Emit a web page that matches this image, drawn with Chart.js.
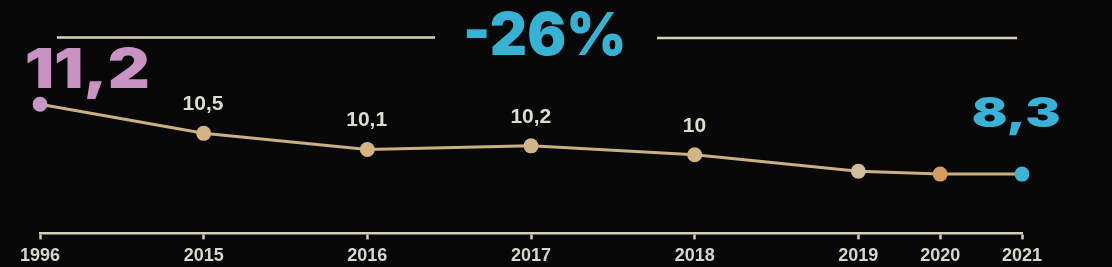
<!DOCTYPE html>
<html>
<head>
<meta charset="utf-8">
<script src="https://cdn.jsdelivr.net/npm/chart.js@4.4.1/dist/chart.umd.min.js"></script>
<style>
  html, body { margin: 0; padding: 0; background: #080808; }
  #wrap { width: 1112px; height: 267px; }
</style>
</head>
<body>
<div id="wrap"><canvas id="c" width="1112" height="267"></canvas></div>
<script>
// ---- data ----
const years = ['1996', '2015', '2016', '2017', '2018', '2019', '2020', '2021'];
// vertical level of each marker as drawn in the reference
const values = [11.2, 10.48, 10.08, 10.17, 9.95, 9.54, 9.47, 9.47];
// printed value labels
const valueLabels = ['11,2', '10,5', '10,1', '10,2', '10', '', '', '8,3'];
const headline = '-26%';

// ---- styling ----
const pointColors = ['#c997c6', '#d3b484', '#d3b484', '#d3b484', '#d3b484', '#cfbea0', '#d49d5e', '#3fb3d6'];
const BIG = "Inter, 'Liberation Sans', sans-serif";
const FONT = "'Liberation Sans', Arial, sans-serif";
const bigFirst = { size: 55, weight: 900, color: '#c993c4', dx: 47.5, dy: -16, w: 121, family: BIG };
const small = { size: 21, weight: 'bold', color: '#dcdccf', dx: 0, dy: -23, w: 0, family: FONT };
const bigLast = { size: 41, weight: 900, color: '#38b3d5', dx: -5.5, dy: -47, w: 87, family: BIG };
const labelStyles = [bigFirst, small, small, small, small, small, small, bigLast];

// build category axis: wider gaps between the earlier years
const categories = [];
const slotData = [];
const slotColors = [];
const slotOfYear = [];
years.forEach((y, i) => {
  slotOfYear.push(categories.length);
  categories.push(y);
  slotData.push(values[i]);
  slotColors.push(pointColors[i]);
  if (i < 5) { categories.push(''); slotData.push(null); slotColors.push('rgba(0,0,0,0)'); }
});

const bgPlugin = {
  id: 'bg',
  beforeDraw(chart) {
    const c = chart.ctx;
    c.save();
    c.fillStyle = '#080808';
    c.fillRect(0, 0, chart.width, chart.height);
    c.restore();
  }
};

// draw text whose glyph box is centred on cx; optionally stretched to a target glyph width
function drawText(c, text, cx, y, s) {
  c.save();
  c.font = s.weight + ' ' + s.size + 'px ' + s.family;
  c.textAlign = 'left';
  c.textBaseline = 'alphabetic';
  const m = c.measureText(text);
  const gl = -m.actualBoundingBoxLeft, gr = m.actualBoundingBoxRight;
  const gw = gr - gl;
  const sx = s.w ? s.w / gw : 1;
  c.translate(cx, y);
  c.scale(sx, 1);
  c.fillStyle = s.color;
  c.fillText(text, -(gl + gw / 2), 0);
  c.restore();
}

const labelPlugin = {
  id: 'labels',
  afterDatasetsDraw(chart) {
    const c = chart.ctx;
    const meta = chart.getDatasetMeta(0);
    years.forEach((y, i) => {
      const t = valueLabels[i];
      if (!t) return;
      const el = meta.data[slotOfYear[i]];
      const s = labelStyles[i];
      drawText(c, t, el.x + s.dx, el.y + s.dy, s);
    });
    // headline with flanking rules
    c.save();
    c.strokeStyle = '#d6d2b6';
    c.lineWidth = 2.5;
    c.beginPath();
    c.moveTo(57, 37.5); c.lineTo(435, 37.5);
    c.moveTo(657, 38); c.lineTo(1017, 38);
    c.stroke();
    c.restore();
    drawText(c, headline, 544.5, 55, { size: 59, weight: 900, color: '#36b2d4', w: 157, family: BIG });
  }
};

new Chart(document.getElementById('c'), {
  type: 'line',
  data: {
    labels: categories,
    datasets: [{
      data: slotData,
      spanGaps: true,
      borderColor: '#cbb083',
      borderWidth: 3,
      pointRadius: 7.5,
      pointBorderWidth: 0,
      pointBackgroundColor: slotColors,
      pointHoverRadius: 7.5,
      tension: 0
    }]
  },
  options: {
    responsive: false,
    animation: false,
    events: [],
    layout: { padding: { left: 40, right: 90, top: 72, bottom: -6 } },
    plugins: { legend: { display: false }, tooltip: { enabled: false }, title: { display: false } },
    scales: {
      x: {
        offset: false,
        border: { display: true, color: '#d0cfba', width: 2.5 },
        grid: {
          display: true,
          drawOnChartArea: false,
          drawTicks: true,
          tickLength: 6,
          tickWidth: 2.5,
          tickColor: (ctx) => categories[ctx.index] ? '#d0cfba' : 'rgba(0,0,0,0)'
        },
        ticks: {
          autoSkip: false,
          maxRotation: 0,
          minRotation: 0,
          padding: 6,
          color: '#d6d6cc',
          font: { family: FONT, size: 18, weight: 'bold' }
        }
      },
      y: {
        display: false,
        min: 8,
        max: 12
      }
    }
  },
  plugins: [bgPlugin, labelPlugin]
});
</script>
</body>
</html>
